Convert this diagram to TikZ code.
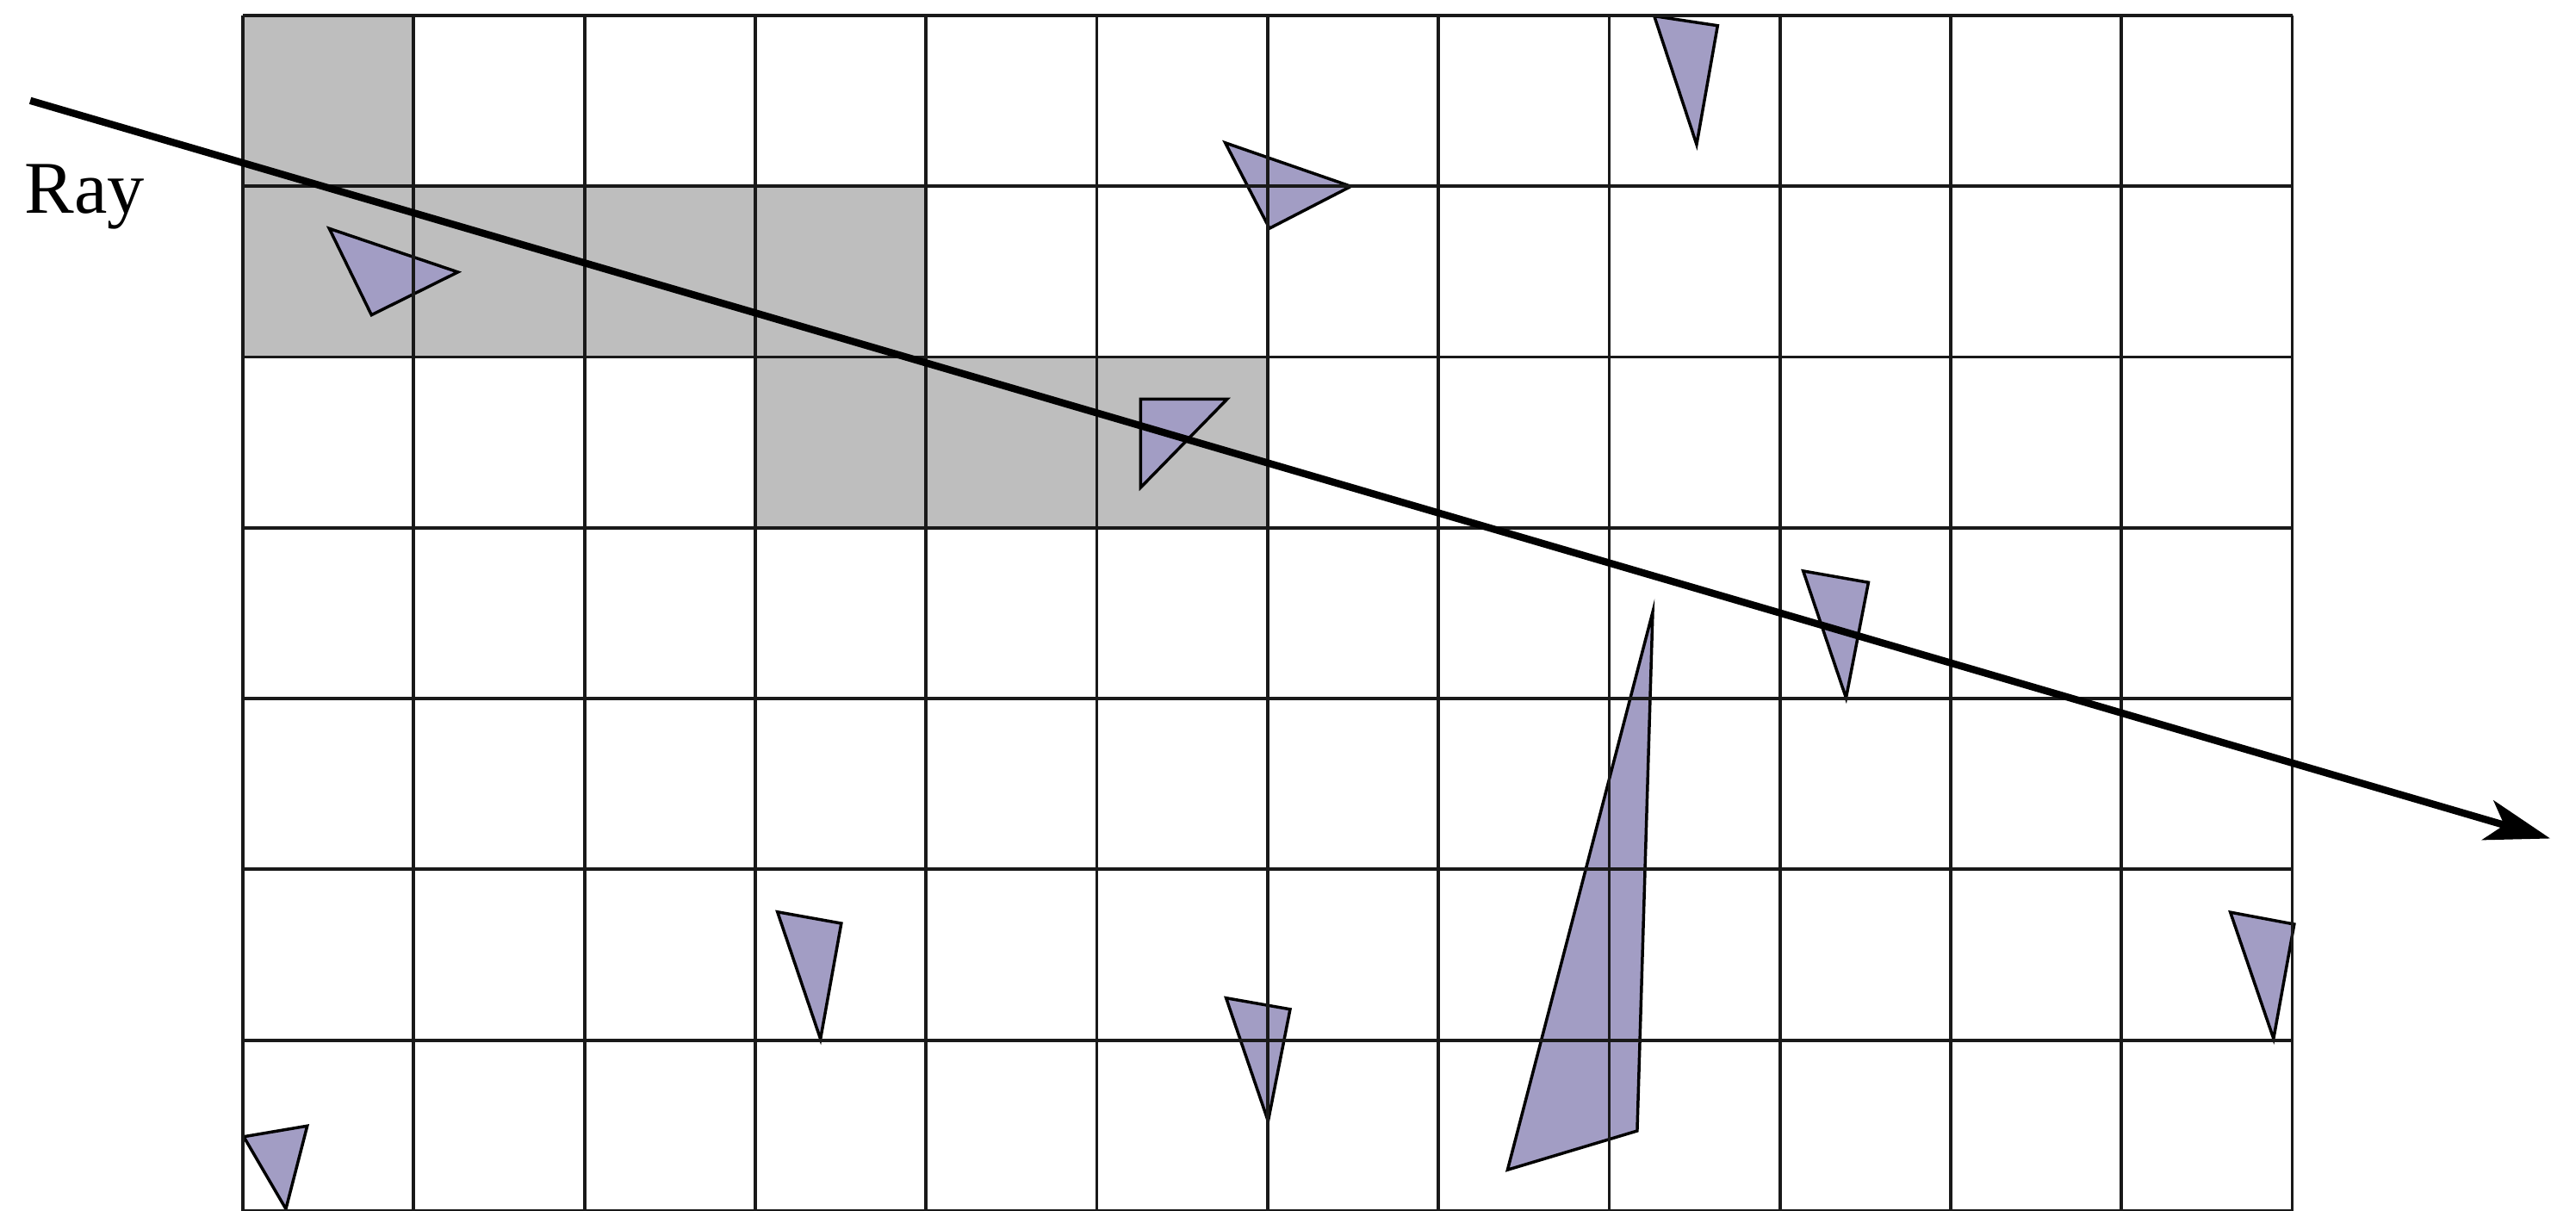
\documentclass[tikz,border=0pt]{standalone}
\usepackage{fontspec}
\setmainfont{Liberation Serif}
\usetikzlibrary{arrows.meta}
\definecolor{cellgray}{HTML}{BEBEBE}
\definecolor{trifill}{HTML}{A29DC4}

\begin{document}
\begin{tikzpicture}[x=1cm,y=1cm,
  visited/.style={fill=cellgray},
  tri/.style={draw=black,fill=trifill,line width=0.5pt},
  gridline/.style={draw=black!90,line width=0.55pt},
  ray/.style={-{Stealth[length=3.8mm,width=2.4mm,inset=1mm]},line width=1.2pt}]
  \useasboundingbox (-1.422,0) rectangle (13.661,7.090);
  % cells crossed by the ray
  \fill[visited] (0,6) rectangle (1,7);
  \fill[visited] (0,5) rectangle (4,6);
  \fill[visited] (3,4) rectangle (6,5);
  % triangles
  \filldraw[tri] (0.506,5.752) -- (1.259,5.497) -- (0.753,5.246) -- cycle;
  \filldraw[tri] (5.752,6.254) -- (6.488,5.999) -- (6.011,5.753) -- cycle;
  \filldraw[tri] (8.264,6.996) -- (8.635,6.940) -- (8.512,6.244) -- cycle;
  \filldraw[tri] (5.257,4.753) -- (5.763,4.753) -- (5.257,4.236) -- cycle;
  \filldraw[tri] (9.136,3.747) -- (9.518,3.680) -- (9.387,3.004) -- cycle;
  \filldraw[tri] (11.637,1.749) -- (12.011,1.679) -- (11.890,1.009) -- cycle;
  \filldraw[tri] (0.005,0.435) -- (0.377,0.498) -- (0.252,0.012) -- cycle;
  \filldraw[tri] (3.130,1.751) -- (3.504,1.684) -- (3.382,1.007) -- cycle;
  \filldraw[tri] (5.757,1.247) -- (6.132,1.181) -- (6.003,0.526) -- cycle;
  \filldraw[tri] (8.255,3.507) -- (8.164,0.469) -- (7.405,0.241) -- cycle;
  % grid
  \draw[gridline] (0,0) grid (12,7);
  % ray
  \coordinate (origin) at (-1.245,6.501);
  \coordinate (tip) at (13.51,2.181);
  \draw[ray] (origin) -- (tip);
  \node[anchor=base,font=\fontsize{12.4}{14}\selectfont,inner sep=0pt] (raylabel) at (-0.927,5.842) {Ray};
\end{tikzpicture}
\end{document}
